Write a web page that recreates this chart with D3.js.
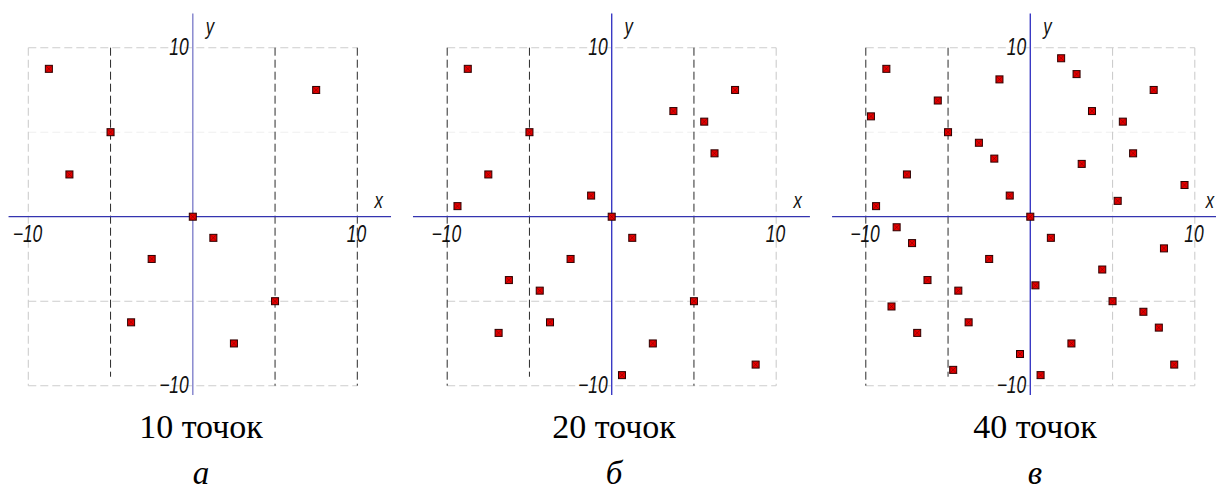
<!DOCTYPE html>
<html>
<head>
<meta charset="utf-8">
<script src="https://cdn.jsdelivr.net/npm/d3@7"></script>
<style>
  html, body { margin: 0; padding: 0; background: #ffffff; }
  svg { display: block; }
</style>
</head>
<body>
<script>
// Point sets for the three panels (x, y in axis units)
const pointsA = [
  [-8.75, 8.75], [-5, 5], [-7.5, 2.5], [0, 0], [7.5, 7.5],
  [1.25, -1.25], [-2.5, -2.5], [5, -5], [-3.75, -6.25], [2.5, -7.5]
];
const pointsB = [
  [-8.75, 8.75], [-5, 5], [-7.5, 2.5], [-9.375, 0.625], [-1.25, 1.25],
  [0, 0], [3.75, 6.25], [5.625, 5.625], [7.5, 7.5], [6.25, 3.75],
  [1.25, -1.25], [-2.5, -2.5], [-6.25, -3.75], [-4.375, -4.375], [-3.75, -6.25],
  [-6.875, -6.875], [5, -5], [2.5, -7.5], [0.625, -9.375], [8.75, -8.75]
];
const pointsC = [
  [-8.75, 8.75], [-9.6875, 5.9375], [-5.625, 6.875], [-5, 5], [-1.875, 8.125],
  [-3.125, 4.375], [-2.1875, 3.4375], [-7.5, 2.5], [-9.375, 0.625], [-1.25, 1.25],
  [0, 0], [1.875, 9.375], [2.8125, 8.4375], [3.75, 6.25], [5.625, 5.625],
  [7.5, 7.5], [6.25, 3.75], [3.125, 3.125], [9.375, 1.875], [5.3125, 0.9375],
  [-8.125, -0.625], [-7.1875, -1.5625], [-6.25, -3.75], [-4.375, -4.375], [-8.4375, -5.3125],
  [-6.875, -6.875], [-3.75, -6.25], [-4.6875, -9.0625], [-2.5, -2.5], [-0.625, -8.125],
  [0.3125, -4.0625], [1.25, -1.25], [0.625, -9.375], [2.5, -7.5], [4.375, -3.125],
  [5, -5], [6.875, -5.625], [7.8125, -6.5625], [8.125, -1.875], [8.75, -8.75]
];

const captions = ["10 точок", "20 точок", "40 точок"];
const panelLetters = ["а", "б", "в"];
const tickValues = [-10, 10];
const verticalGuides = [-10, -5, 5, 10];
const horizontalGuides = [10, 5, -5, -10];
// which vertical guides are drawn dark in each panel
const darkGuides = [[-5, 5, 10], [-10, -5, 5], [-10, -5]];

const W = 1216, H = 492;
const panels = [
  { pts: pointsA, ox: 192.8, axisFrom: -11.2, capX: 201 },
  { pts: pointsB, ox: 611.7, axisFrom: -12.08, capX: 614 },
  { pts: pointsC, ox: 1030.3, axisFrom: -12.05, capX: 1035 }
];
const halfW = 164.5;          // px from origin to x = ±10
const yTop = 47.7, yBot = 385.7;

const svg = d3.select("body").append("svg")
  .attr("width", W).attr("height", H);

const fmt = v => (v < 0 ? "\u2212" + Math.abs(v) : String(v));

panels.forEach((p, i) => {
  const x = d3.scaleLinear().domain([-10, 10]).range([p.ox - halfW, p.ox + halfW]);
  const y = d3.scaleLinear().domain([-10, 10]).range([yBot, yTop]);
  const g = svg.append("g");

  // light dashed horizontal guides
  g.selectAll("line.h").data(horizontalGuides).join("line")
    .attr("x1", x(-10)).attr("x2", x(10))
    .attr("y1", d => y(d)).attr("y2", d => y(d))
    .attr("stroke", d => d === 5 ? "#f0f0f0" : "#cdcdcd")
    .attr("stroke-width", 1.1)
    .attr("stroke-dasharray", "8,4");

  // vertical guides, dark or light
  const dark = darkGuides[i];
  g.selectAll("line.v").data(verticalGuides).join("line")
    .attr("x1", d => x(d)).attr("x2", d => x(d))
    .attr("y1", y(10))
    .attr("y2", d => d === -5 ? y(-9.47) : y(-10))
    .attr("stroke", d => dark.includes(d) ? "#2a2a2a" : "#cdcdcd")
    .attr("stroke-width", d => dark.includes(d) ? 1 : 1.1)
    .attr("stroke-dasharray", "8,4");

  // coordinate axes
  g.append("line")
    .attr("x1", x(p.axisFrom)).attr("x2", x(12.05))
    .attr("y1", y(0)).attr("y2", y(0))
    .attr("stroke", "#3434b0").attr("stroke-width", 1.3);
  g.append("line")
    .attr("x1", x(0)).attr("x2", x(0))
    .attr("y1", y(12.03)).attr("y2", y(-10.55))
    .attr("stroke", i === 0 ? "#8282cc" : "#3a3ac4").attr("stroke-width", 1.4);

  // axis labels in a narrow italic drafting style
  const label = (tx, ty, txt, anchor, size) => {
    g.append("text")
      .attr("transform", `translate(${tx},${ty}) scale(0.76,1)`)
      .attr("text-anchor", anchor)
      .attr("font-family", "'Liberation Sans', Arial, sans-serif")
      .attr("font-style", "italic")
      .attr("font-size", size)
      .attr("fill", "#111")
      .text(txt);
  };
  tickValues.forEach(v => {
    label(x(v) - 0.8, y(0) + 25.5, fmt(v), "middle", 23);
    label(x(0) - 4, y(v) + 7.5, fmt(v), "end", 23);
  });
  label(Math.min(x(11.3), W - 6), y(0) - 8.5, "x", "middle", 22);
  label(x(0) + 17, y(12) + 20.5, "y", "middle", 22);

  // sample points
  const s = 3.5;
  const pg = g.selectAll("g.pt").data(p.pts).join("g")
    .attr("transform", d => `translate(${x(d[0])},${y(d[1])})`);
  pg.append("rect")
    .attr("x", -s).attr("y", -s).attr("width", 2 * s).attr("height", 2 * s)
    .attr("fill", "#e60000").attr("stroke", "#2a0000").attr("stroke-width", 1);
  pg.append("path")
    .attr("d", `M${-s},${-s}L${s},${s}M${-s},${s}L${s},${-s}`)
    .attr("stroke", "#5a0000").attr("stroke-width", 0.6).attr("opacity", 0.7);

  // captions under each panel
  svg.append("text")
    .attr("x", p.capX).attr("y", 438)
    .attr("text-anchor", "middle")
    .attr("font-family", "'Liberation Serif', 'Times New Roman', serif")
    .attr("font-size", 34).attr("fill", "#000")
    .text(captions[i]);
  svg.append("text")
    .attr("x", p.capX).attr("y", 484)
    .attr("text-anchor", "middle")
    .attr("font-family", "'Liberation Serif', 'Times New Roman', serif")
    .attr("font-style", "italic")
    .attr("font-size", 33).attr("fill", "#000")
    .text(panelLetters[i]);
});
</script>
</body>
</html>
